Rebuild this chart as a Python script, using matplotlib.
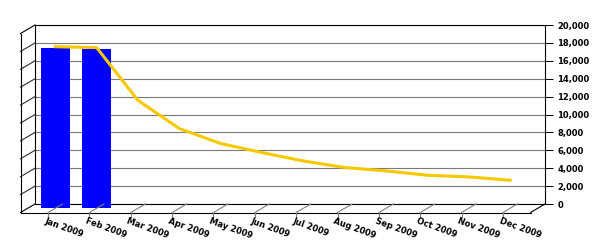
import matplotlib
matplotlib.use('Agg')
import matplotlib.pyplot as plt
from matplotlib.transforms import offset_copy, IdentityTransform
from matplotlib.lines import Line2D
from matplotlib.ticker import FuncFormatter

months = ['Jan 2009', 'Feb 2009', 'Mar 2009', 'Apr 2009', 'May 2009', 'Jun 2009',
          'Jul 2009', 'Aug 2009', 'Sep 2009', 'Oct 2009', 'Nov 2009', 'Dec 2009']
bar_values = [17950, 17800]
line_values = [18050, 17950, 12050, 8900, 7230, 6220, 5280, 4550, 4170, 3690, 3500, 3130]
y_ticks = list(range(0, 20001, 2000))

DEPTH = (-14.5, -8.5)  # pixels from back wall to front edge

fig = plt.figure(figsize=(6, 2.5), dpi=100)
ax = fig.add_axes([35 / 600, 46 / 250, 510 / 600, 179 / 250])
ax.set_xlim(-0.667, len(months) - 1 + 0.667)
ax.set_ylim(0, 20000)

# bars and line sit half way between back wall and front edge
mid = offset_copy(ax.transData, fig=fig, x=DEPTH[0] / 2, y=DEPTH[1] / 2, units='dots')
ax.bar(range(len(bar_values)), bar_values, width=0.7, color='#0000ff',
       transform=mid, clip_on=False, zorder=3)
ax.plot(range(len(months)), line_values, color='#f5c800', lw=2.2,
        transform=mid, clip_on=False, zorder=4, solid_joinstyle='round')

# back wall
ax.set_yticks(y_ticks)
ax.yaxis.tick_right()
ax.yaxis.set_major_formatter(FuncFormatter(lambda v, p: f'{int(v):,}'))
ax.tick_params(axis='y', length=6, width=0.72, pad=3, labelsize=6)
for lab in ax.get_yticklabels():
    lab.set_fontweight('bold')
ax.set_xticks([])
ax.grid(axis='y', color='#7a7a7a', lw=0.8)
ax.set_axisbelow(True)
for s in ax.spines.values():
    s.set_linewidth(0.8)


def line_px(p0, p1, color='black', lw=0.8):
    fig.add_artist(Line2D([p0[0], p1[0]], [p0[1], p1[1]], color=color, lw=lw,
                          transform=IdentityTransform()))


def back(x, y):
    return ax.transData.transform((x, y))


def front(x, y):
    b = back(x, y)
    return (b[0] + DEPTH[0], b[1] + DEPTH[1])


x0, x1 = ax.get_xlim()
# side wall and floor outline
for v in y_ticks[1:-1]:
    line_px(back(x0, v), front(x0, v), color='#303030')
line_px(back(x0, 20000), front(x0, 20000))
line_px(back(x0, 0), front(x0, 0))
line_px(front(x0, 0), front(x0, 20000))
line_px(front(x0, 0), front(x1, 0))
line_px(back(x1, 0), front(x1, 0))

# floor lines, ticks and month labels
for i, m in enumerate(months):
    f = front(i, 0)
    line_px(back(i, 0), f, color='#808080')
    line_px(f, (f[0], f[1] - 4), color='#808080')
    fig.text((f[0] - 2) / 600, (f[1] - 4) / 250, m, fontsize=6, fontweight='bold',
             rotation=-20, rotation_mode='anchor', ha='left', va='top')

fig.savefig('out.png', dpi=100)
